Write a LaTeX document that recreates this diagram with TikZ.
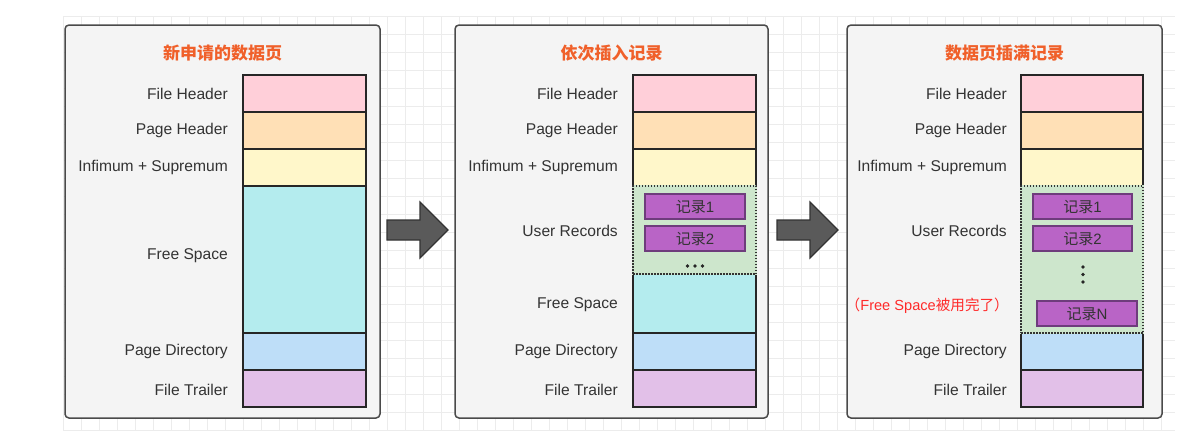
\documentclass[tikz,border=0pt]{standalone}
\usepackage{fontspec}
\setmainfont{Liberation Sans}
\newfontfamily\cjk{Noto Sans CJK SC}
\definecolor{panelfill}{HTML}{F4F4F4}
\definecolor{paneldraw}{HTML}{4A4A4A}
\definecolor{cFH}{HTML}{FFCFD9}
\definecolor{cPH}{HTML}{FFE0B6}
\definecolor{cIS}{HTML}{FFF7CA}
\definecolor{cFS}{HTML}{B4ECEE}
\definecolor{cPD}{HTML}{BEDEF8}
\definecolor{cFT}{HTML}{E2C0E8}
\definecolor{cUR}{HTML}{CDE6CC}
\definecolor{cRec}{HTML}{B964C6}
\definecolor{cRecD}{HTML}{6E3C7C}
\definecolor{titlec}{HTML}{F0602A}
\definecolor{redc}{HTML}{FF2A2A}
\definecolor{txt}{HTML}{333333}
\definecolor{gridc}{HTML}{ECECEC}
\definecolor{arrowf}{HTML}{5A5A5A}
\begin{document}
\begin{tikzpicture}[x=1pt,y=-1pt,
  panel/.style={draw=paneldraw,fill=panelfill,line width=1.5pt,rounded corners=4pt},
  seg/.style={draw=black!85,line width=1.5pt,inner sep=0pt,outer sep=0pt,minimum width=123pt},
  urbox/.style={seg,fill=cUR,draw=black!80,dash pattern=on 1.5pt off 1.5pt,preaction={draw=cUR,solid,line width=2pt}},
  lbl/.style={anchor=east,text=txt,font=\fontsize{15.6}{17}\selectfont,inner sep=0pt},
  ttl/.style={text=titlec,font=\fontsize{17}{19}\selectfont\cjk\bfseries,inner sep=0pt},
  rec/.style={draw=cRecD,fill=cRec,line width=1.2pt,minimum width=100pt,minimum height=25pt,inner sep=0pt,text=black!80,font=\fontsize{15}{17}\selectfont},
  blockarrow/.style={draw=black!80,fill=arrowf,line width=1.2pt,line join=miter},
  dotc/.style={circle,fill=black!85,inner sep=0pt,minimum size=3.8pt}
]
\useasboundingbox (0,0) rectangle (1194,437);
\fill[white] (0,0) rectangle (1194,437);
% background grid
\foreach \gx in {63,81,...,1175} \draw[gridc,line width=0.6pt] (\gx,16) -- (\gx,430);
\foreach \gy in {16,34,...,430} \draw[gridc,line width=0.6pt] (63,\gy) -- (1175,\gy);

% panels
\draw[panel] (65,25) rectangle (380,418);
\draw[panel] (455,25) rectangle (768,418);
\draw[panel] (847,25) rectangle (1162,418);

% titles
\node[ttl] (t1) at (222.5,53) {新申请的数据页};
\node[ttl] (t2) at (611.5,53) {依次插入记录};
\node[ttl] (t3) at (1004.5,53) {数据页插满记录};

% ---------- panel 1 ----------
\node[seg,fill=cFH,minimum height=37pt] (a1) at (304.5,93.5) {};
\node[seg,fill=cPH,minimum height=37pt] (a2) at (304.5,130.5) {};
\node[seg,fill=cIS,minimum height=37pt] (a3) at (304.5,167.5) {};
\node[seg,fill=cFS,minimum height=147pt] (a4) at (304.5,259.5) {};
\node[seg,fill=cPD,minimum height=37pt] (a5) at (304.5,351.5) {};
\node[seg,fill=cFT,minimum height=37pt] (a6) at (304.5,388.5) {};
\node[lbl] (la1) at (228,93.5) {File Header};
\node[lbl] (la2) at (228,130.5) {Page Header};
\node[lbl] (la3) at (228,167.5) {Infimum + Supremum};
\node[lbl] (la4) at (228,256) {Free Space};
\node[lbl] (la5) at (228,351.5) {Page Directory};
\node[lbl] (la6) at (228,390) {File Trailer};

% ---------- panel 2 ----------
\node[seg,fill=cFH,minimum height=37pt] (b1) at (694.5,93.5) {};
\node[seg,fill=cPH,minimum height=37pt] (b2) at (694.5,130.5) {};
\node[seg,fill=cIS,minimum height=37pt] (b3) at (694.5,167.5) {};
\node[seg,fill=cFS,minimum height=59pt] (b5) at (694.5,303.5) {};
\node[seg,fill=cPD,minimum height=37pt] (b6) at (694.5,351.5) {};
\node[seg,fill=cFT,minimum height=37pt] (b7) at (694.5,388.5) {};
\node[urbox,minimum height=88pt] (b4) at (694.5,230) {};
\node[rec] (r21) at (695,206.5) {{\cjk 记录}1};
\node[rec] (r22) at (695,238.5) {{\cjk 记录}2};
\node[dotc] (d21) at (687.5,266) {};
\node[dotc] (d22) at (695,266) {};
\node[dotc] (d23) at (702.5,266) {};
\node[lbl] (lb1) at (618,93.5) {File Header};
\node[lbl] (lb2) at (618,130.5) {Page Header};
\node[lbl] (lb3) at (618,167.5) {Infimum + Supremum};
\node[lbl] (lb4) at (618,231) {User Records};
\node[lbl] (lb5) at (618,305) {Free Space};
\node[lbl] (lb6) at (618,351.5) {Page Directory};
\node[lbl] (lb7) at (618,390) {File Trailer};

% ---------- panel 3 ----------
\node[seg,fill=cFH,minimum height=37pt,minimum width=122pt] (c1) at (1082,93.5) {};
\node[seg,fill=cPH,minimum height=37pt,minimum width=122pt] (c2) at (1082,130.5) {};
\node[seg,fill=cIS,minimum height=37pt,minimum width=122pt] (c3) at (1082,167.5) {};
\node[seg,fill=cPD,minimum height=37pt,minimum width=122pt] (c5) at (1082,351.5) {};
\node[seg,fill=cFT,minimum height=37pt,minimum width=122pt] (c6) at (1082,388.5) {};
\node[urbox,minimum height=147pt,minimum width=122pt] (c4) at (1082,259.5) {};
\node[rec,minimum width=99pt] (r31) at (1082.5,206.5) {{\cjk 记录}1};
\node[rec,minimum width=99pt] (r32) at (1082.5,238.5) {{\cjk 记录}2};
\node[dotc] (d31) at (1083,267) {};
\node[dotc] (d32) at (1083,274.5) {};
\node[dotc] (d33) at (1083,282) {};
\node[rec] (r3n) at (1087,313.5) {{\cjk 记录}N};
\node[lbl] (lc1) at (1007,93.5) {File Header};
\node[lbl] (lc2) at (1007,130.5) {Page Header};
\node[lbl] (lc3) at (1007,167.5) {Infimum + Supremum};
\node[lbl] (lc4) at (1007,231) {User Records};
\node[lbl,text=redc,font=\fontsize{14.6}{16}\selectfont] (lcr) at (1009,306) {{\cjk （}Free Space{\cjk 被用完了）}};
\node[lbl] (lc5) at (1007,351.5) {Page Directory};
\node[lbl] (lc6) at (1007,390) {File Trailer};

% ---------- block arrows ----------
\draw[blockarrow] (387,220) -- (420,220) -- (420,202) -- (448,230) -- (420,258) -- (420,240) -- (387,240) -- cycle;
\draw[blockarrow] (777,220) -- (810,220) -- (810,202) -- (838,230) -- (810,258) -- (810,240) -- (777,240) -- cycle;
\end{tikzpicture}
\end{document}
